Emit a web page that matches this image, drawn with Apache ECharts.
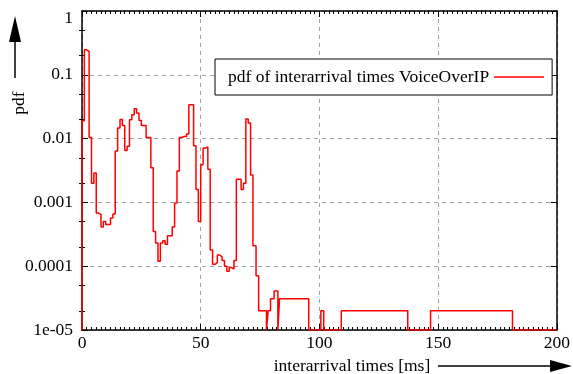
<!DOCTYPE html>
<html>
<head>
<meta charset="utf-8">
<script src="https://cdn.jsdelivr.net/npm/echarts@6/dist/echarts.min.js"></script>
<style>
  html, body { margin: 0; padding: 0; background: #fff; }
  #chart { width: 573px; height: 374px; }
</style>
</head>
<body>
<div id="chart"></div>
<script>
// Left edge (ms) of each histogram step
const stepStart = [
  0, 0, 1, 2, 3, 4, 5, 6, 7, 8, 9,
  10, 11, 12, 13, 14, 15, 16, 17, 18, 19,
  20, 21, 22, 23, 24, 25, 26, 27, 28, 29,
  30, 31, 32, 33, 34, 35, 36, 37, 38, 39,
  40, 41, 42, 43, 44, 45, 46, 47, 48, 49,
  50, 51, 52, 53, 54, 55, 56, 57, 58, 59,
  60, 61, 62, 63, 64, 65, 66, 67, 68, 69,
  70, 71, 72, 73.3, 74.4, 77.7, 78.4, 79.4, 80.9, 82.5,
  83.2, 95.5, 100.6, 101.8, 109.2, 137.2, 146.8, 181.3, 200
];
// pdf level held over each step (0 = empty bin)
const pdfLevel = [
  0, 0.019, 0.246, 0.232, 0.0104, 0.002, 0.0029, 0.00068, 0.00065, 0.00041, 0.0005,
  0.00045, 0.00045, 0.00057, 0.00066, 0.0064, 0.0147, 0.020, 0.016, 0.0065, 0.0076,
  0.0198, 0.0237, 0.0294, 0.0253, 0.0193, 0.016, 0.016, 0.0104, 0.0104, 0.0035,
  0.00035, 0.00023, 0.00012, 0.00023, 0.00025, 0.00022, 0.0003, 0.0003, 0.00041, 0.00098,
  0.0031, 0.0104, 0.0108, 0.0108, 0.0118, 0.034, 0.034, 0.0077, 0.0016, 0.0005,
  0.0039, 0.0071, 0.0074, 0.0033, 0.00018, 0.000107, 0.000114, 0.00015, 0.00014, 0.000123,
  0.0001, 0.000083, 0.000095, 0.00009, 0.000123, 0.0023, 0.0023, 0.0016, 0.002, 0.0202,
  0.0175, 0.0027, 0.00021, 0.000071, 0.00002, 0, 0.00002, 0.000031, 0.000041, 0,
  0.000031, 0, 0.00002, 0, 0.00002, 0, 0.00002, 0, 0
];

const xTickValues = [0, 50, 100, 150, 200];
const yTickValues = [1e-5, 1e-4, 1e-3, 1e-2, 1e-1, 1];
const yTickLabels = ['1e-05', '0.0001', '0.001', '0.01', '0.1', '1'];
const yMinorTickValues = [2e-5, 5e-5, 2e-4, 5e-4, 2e-3, 5e-3, 2e-2, 5e-2, 0.2, 0.5];

const seriesName = 'pdf of interarrival times VoiceOverIP';
const xTitle = 'interarrival times [ms]';
const yTitle = 'pdf';

const FONT = '"Liberation Serif", "Times New Roman", serif';
const FS = 17.5;
const yMin = yTickValues[0];
const yMax = yTickValues[yTickValues.length - 1];
const xMin = xTickValues[0];
const xMax = xTickValues[xTickValues.length - 1];
const xStep = xTickValues[1] - xTickValues[0];

// empty bins sit on the bottom of the log axis
const lineData = stepStart.map((x, i) => [x, pdfLevel[i] > 0 ? pdfLevel[i] : yMin]);

const black = '#000';
const gridLine = { show: true, lineStyle: { color: '#a0a0a0', type: [4, 4], width: 1 } };
const hidden = { show: false };
const border = { show: true, onZero: false, lineStyle: { color: black, width: 1.5 } };

const baseX = { type: 'value', min: xMin, max: xMax, interval: xStep };
const baseY = { type: 'log', logBase: 10, min: yMin, max: yMax };

function yLabel(v) {
  const i = yTickValues.findIndex(t => Math.abs(Math.log10(t) - Math.log10(v)) < 1e-6);
  if (i < 0) return '';
  return i === yTickValues.length - 1 ? '{top|' + yTickLabels[i] + '}' : yTickLabels[i];
}

const chart = echarts.init(document.getElementById('chart'), null, { renderer: 'canvas' });

chart.setOption({
  animation: false,
  backgroundColor: '#fff',
  grid: { left: 82, right: 3, top: 11, bottom: 44, containLabel: false },
  legend: {
    left: 215, top: 59,
    align: 'right',
    padding: [9, 8, 9, 13],
    itemWidth: 50, itemHeight: 1.5,
    backgroundColor: '#fff',
    borderColor: black, borderWidth: 1,
    textStyle: { fontFamily: FONT, fontSize: FS, color: black },
    data: [{ name: seriesName, icon: 'rect' }],
    selectedMode: false
  },
  xAxis: [
    // dashed vertical grid
    Object.assign({}, baseX, { z: 0, axisLine: hidden, axisTick: hidden, axisLabel: hidden, splitLine: gridLine }),
    // bottom frame, ticks and labels
    Object.assign({}, baseX, {
      position: 'bottom', z: 1,
      axisLine: border,
      axisTick: { show: true, inside: true, length: 6, lineStyle: { color: black, width: 1 } },
      minorTick: { show: true, splitNumber: 25, length: 3, lineStyle: { color: black, width: 1 } },
      axisLabel: { show: true, margin: 4, color: black, fontFamily: FONT, fontSize: FS },
      splitLine: hidden
    }),
    // top frame with mirrored ticks
    Object.assign({}, baseX, {
      position: 'top', z: 1,
      axisLine: border,
      axisTick: { show: true, inside: true, length: 6, lineStyle: { color: black, width: 1 } },
      minorTick: { show: true, splitNumber: 25, length: 3, lineStyle: { color: black, width: 1 } },
      axisLabel: hidden,
      splitLine: hidden
    })
  ],
  yAxis: [
    // dashed horizontal grid
    Object.assign({}, baseY, {
      z: 0, axisLine: hidden,
      axisTick: { show: false, customValues: yTickValues },
      axisLabel: hidden, splitLine: gridLine
    }),
    // left frame, decade ticks and labels
    Object.assign({}, baseY, {
      position: 'left', z: 1,
      axisLine: border,
      axisTick: { show: true, inside: true, length: 6, customValues: yTickValues, lineStyle: { color: black, width: 1 } },
      axisLabel: {
        show: true, margin: 9, color: black, fontFamily: FONT, fontSize: FS,
        customValues: yTickValues,
        formatter: yLabel,
        rich: { top: { padding: [14, 0, 0, 0], fontFamily: FONT, fontSize: FS, color: black } }
      },
      splitLine: hidden
    }),
    // right frame with mirrored decade ticks
    Object.assign({}, baseY, {
      position: 'right', z: 1,
      axisLine: border,
      axisTick: { show: true, inside: true, length: 6, customValues: yTickValues, lineStyle: { color: black, width: 1 } },
      axisLabel: hidden, splitLine: hidden
    }),
    // left minor ticks at 2 and 5 of each decade
    Object.assign({}, baseY, {
      position: 'left', z: 1, axisLine: hidden,
      axisTick: { show: true, inside: true, length: 3, customValues: yMinorTickValues, lineStyle: { color: black, width: 1 } },
      axisLabel: hidden, splitLine: hidden
    }),
    // right minor ticks
    Object.assign({}, baseY, {
      position: 'right', z: 1, axisLine: hidden,
      axisTick: { show: true, inside: true, length: 3, customValues: yMinorTickValues, lineStyle: { color: black, width: 1 } },
      axisLabel: hidden, splitLine: hidden
    })
  ],
  series: [{
    name: seriesName,
    type: 'line',
    xAxisIndex: 1,
    yAxisIndex: 1,
    step: 'end',
    symbol: 'none',
    clip: true,
    z: 3,
    lineStyle: { color: '#ff0000', width: 1.5 },
    itemStyle: { color: '#ff0000' },
    data: lineData
  }],
  graphic: [
    {
      type: 'text', x: 19, y: 103, rotation: Math.PI / 2,
      style: { text: yTitle, fontFamily: FONT, fontSize: FS, fill: black, align: 'center', verticalAlign: 'middle' }
    },
    { type: 'line', shape: { x1: 15, y1: 78, x2: 15, y2: 38 }, style: { stroke: black, lineWidth: 1.5 } },
    { type: 'polygon', shape: { points: [[15, 16], [9, 42], [21, 42]] }, style: { fill: black } },
    {
      type: 'text', x: 352, y: 366,
      style: { text: xTitle, fontFamily: FONT, fontSize: FS, fill: black, align: 'center', verticalAlign: 'middle' }
    },
    { type: 'line', shape: { x1: 438, y1: 366, x2: 553, y2: 366 }, style: { stroke: black, lineWidth: 1.5 } },
    { type: 'polygon', shape: { points: [[572, 366], [550, 360], [550, 372]] }, style: { fill: black } }
  ]
});
</script>
</body>
</html>
